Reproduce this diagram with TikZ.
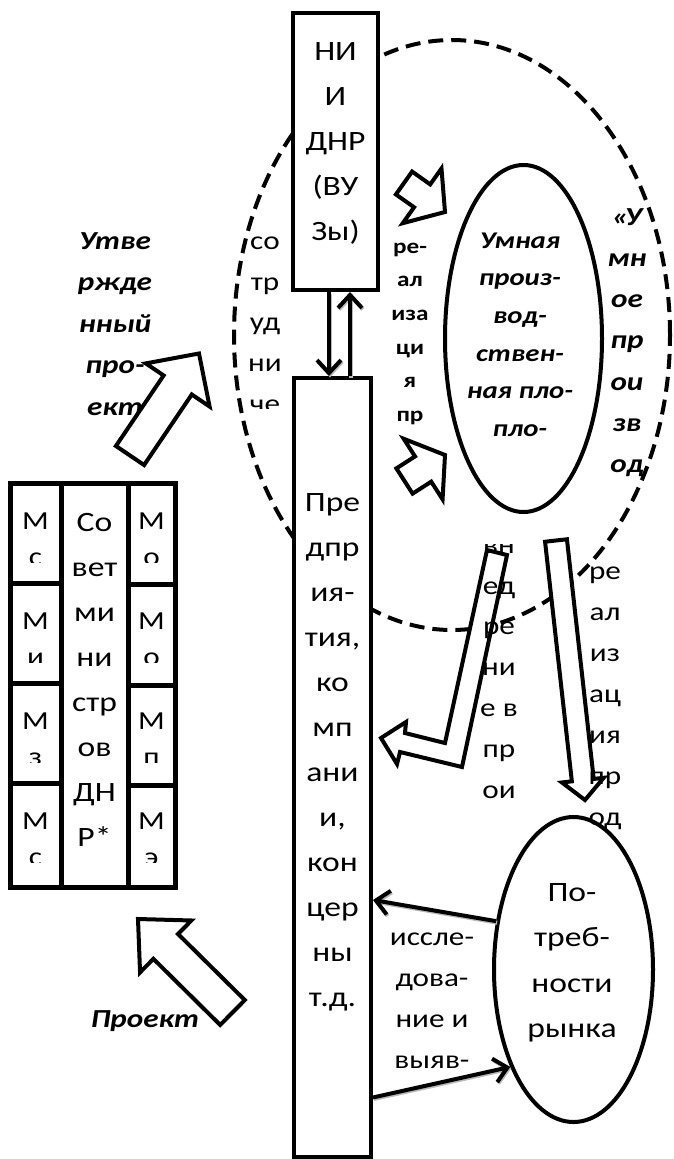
\documentclass[tikz,border=0pt]{standalone}
\usepackage{fontspec}
\setmainfont{Carlito}[FakeStretch=1.2]
\usetikzlibrary{shapes.geometric,arrows.meta,calc}

\newcommand\linestack[6]{%
  \foreach \t [count=\i from 0] in {#6}{%
    \node[lin,#5] (#1-\i) at (#2,{#3+#4*\i}) {\t};}}

\newcommand\myblockarrow[5]{%
  \coordinate (ba-b) at ($(#2)!#5!(#1)$);
  \draw[blockar] ($(#1)!#3!90:(#2)$) -- ($(ba-b)!#3!90:(#2)$) -- ($(ba-b)!#4!90:(#2)$) -- (#2)
     -- ($(ba-b)!#4!-90:(#2)$) -- ($(ba-b)!#3!-90:(#2)$) -- ($(#1)!#3!-90:(#2)$) -- cycle;}

\begin{document}
\begin{tikzpicture}[x=1pt,y=-1pt,
  lin/.style={inner sep=0pt,anchor=mid},
  fA/.style={font=\fontsize{28}{34}\selectfont},
  fB/.style={font=\fontsize{26}{31}\selectfont},
  fBI/.style={font=\fontsize{26}{31}\selectfont\bfseries\itshape},
  fBIs/.style={font=\fontsize{24}{29}\selectfont\bfseries\itshape},
  fBs/.style={font=\fontsize{21}{25}\selectfont\bfseries},
  box/.style={draw,line width=4pt,fill=white,rectangle,inner sep=0pt},
  oval/.style={draw,line width=4pt,fill=white,ellipse,inner sep=0pt},
  zone/.style={draw,line width=4pt,ellipse,inner sep=0pt,dash pattern=on 15pt off 8pt,
     minimum width=436pt,minimum height=590pt},
  cell/.style={draw,line width=5pt},
  blockar/.style={draw,line width=4pt,fill=white},
  conn/.style={line width=4pt,-{Straight Barb[length=13pt,width=24pt]},
     preaction={draw=gray!55,line width=4pt,transform canvas={shift={(1pt,-1.5pt)}}}}
]
\useasboundingbox (0,0) rectangle (674,1159);

% main shapes
\node[zone] (zone) at (452,335) {};
\node[box,minimum width=85pt,minimum height=277pt] (nii) at (335.5,151.5) {};
\node[box,minimum width=77pt,minimum height=779pt] (low) at (332.5,767.5) {};
\node[oval,minimum width=157pt,minimum height=347pt] (smart) at (523.5,338.5) {};
\node[oval,minimum width=159pt,minimum height=305pt] (potr) at (573.5,969.5) {};

% table of ministries
\foreach \a/\b in {483/583,583/683,683/783,783/887} \draw[cell] (10,\a) rectangle (61,\b);
\draw[cell] (61,483) rectangle (128,887);
\foreach \a/\b in {483/584,584/685,685/785,785/887} \draw[cell] (128,\a) rectangle (175,\b);

% approved project text and arrow
\linestack{utv}{115}{247}{41.5}{fBI}{Утве,ржде,нный,про-,ект}
\coordinate (utvT) at (130,455.5); \coordinate (utvH) at (199,353.5);
\myblockarrow{utvT}{utvH}{17pt}{38.5pt}{38pt}

% other block arrows
\coordinate (prT) at (232.5,1012.5); \coordinate (prH) at (138,919);
\myblockarrow{prT}{prH}{17.5pt}{36.5pt}{39pt}
\coordinate (upT) at (404,183); \coordinate (upH) at (445,212);
\myblockarrow{upT}{upH}{14pt}{33.5pt}{28pt}
\coordinate (loT) at (404.5,481); \coordinate (loH) at (445,455);
\myblockarrow{loT}{loH}{15pt}{36pt}{26pt}
\coordinate (rpT) at (556,540.5); \coordinate (rpH) at (585,800);
\myblockarrow{rpT}{rpH}{11pt}{21pt}{20pt}
\draw[blockar] (487,550) -- (507,555) -- (462,767) -- (400,752) -- (397,764) -- (381,738)
   -- (406,722) -- (405,733) -- (445,743) -- cycle;

% texts
\linestack{niit}{335.5}{58}{45}{fA}{НИ,И,ДНР,{(ВУ},{Зы)}}
\linestack{lowt}{332.5}{509}{45}{fA}{Пре,дпр,ия-,{тия,},ко,мп,ани,{и,},кон,цер,ны,т.д.}
\linestack{sov}{94.5}{529}{45}{fA}{Со,вет,ми,ни,стр,ов,ДН,Р*}
\linestack{potrt}{572}{899}{45.3}{fA}{По-,треб-,ности,рынка}
\begin{scope}
\clip (238,200) rectangle (292,408);
\linestack{sotr}{265}{247}{40.75}{fB}{со,тр,уд,ни,че}
\end{scope}
\linestack{real}{410}{251}{33.6}{fBs}{ре-,ал,иза,ци,я,пр}
\linestack{smt}{520}{246}{37.6}{fBIs}{Умная,произ-,вод-,ствен-,ная пло-,пло-}
\linestack{umn}{627}{223}{41.2}{fBI}{{«\kern-4ptУ},мн,ое,пр,ои,зв,од}
\begin{scope}
\clip (465,544) rectangle (535,820);
\linestack{vn}{499}{551}{40.8}{fB}{вн,ед,ре,ни,е в,пр,ои}
\end{scope}
\linestack{rp}{605}{577}{41}{fB}{ре,ал,из,ац,ия,пр,од}
\linestack{iss}{432}{943}{41}{fB}{иссле-,дова-,ние и,выяв-}
\node[lin,fBI] (proekt) at (145,1025) {Проект};

\foreach \k/\l/\r in {0/с/о,1/и/о,2/з/п,3/с/э}{
  \begin{scope}
    \clip (10,{483+100*\k}) rectangle (175,{562+100*\k});
    \node[lin,fB] (ml\k) at (35.5,{527+100*\k}) {М};
    \node[lin,fB] (mlb\k) at (35.5,{563+100*\k}) {\l};
    \node[lin,fB] (mr\k) at (151.5,{527+100*\k}) {М};
    \node[lin,fB] (mrb\k) at (151.5,{563+100*\k}) {\r};
  \end{scope}}

% connectors
\draw[conn] ($(nii.south)+(-6.5,0)$) -- ($(nii.south |- low.north)+(-6.5,0)$);
\draw[conn] ($(nii.south |- low.north)+(14.5,0)$) -- ($(nii.south)+(14.5,0)$);
\draw[conn] (potr.148) -- (low.-73.2);
\draw[conn] (low.-83.2) -- (potr.237);
\end{tikzpicture}
\end{document}
